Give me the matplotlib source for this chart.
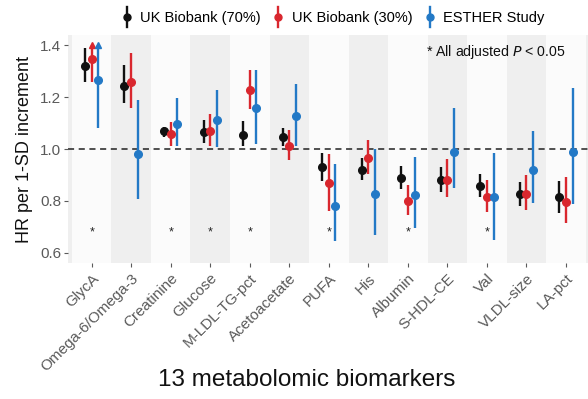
import numpy as np
import matplotlib.pyplot as plt
from matplotlib.lines import Line2D
from matplotlib.legend_handler import HandlerBase

plt.rcParams['font.family'] = ['Liberation Sans', 'DejaVu Sans']

biomarkers = ["GlycA", "Omega-6/Omega-3", "Creatinine", "Glucose", "M-LDL-TG-pct",
              "Acetoacetate", "PUFA", "His", "Albumin", "S-HDL-CE", "Val",
              "VLDL-size", "LA-pct"]

# UK Biobank (70%)
hr_70 = [1.321, 1.244, 1.071, 1.064, 1.054, 1.046, 0.929, 0.920, 0.888, 0.881, 0.857, 0.827, 0.814]
lo_70 = [1.257, 1.176, 1.048, 1.024, 1.013, 1.013, 0.878, 0.879, 0.845, 0.833, 0.816, 0.782, 0.755]
hi_70 = [1.388, 1.324, 1.086, 1.112, 1.109, 1.082, 0.986, 0.965, 0.934, 0.932, 0.902, 0.872, 0.877]

# UK Biobank (30%)
hr_30 = [1.347, 1.257, 1.057, 1.069, 1.226, 1.013, 0.868, 0.964, 0.800, 0.881, 0.816, 0.827, 0.797]
lo_30 = [1.257, 1.159, 1.013, 1.013, 1.154, 0.958, 0.762, 0.902, 0.744, 0.814, 0.759, 0.765, 0.716]
hi_30 = [1.440, 1.371, 1.105, 1.134, 1.304, 1.075, 0.981, 1.035, 0.861, 0.960, 0.881, 0.900, 0.891]

# ESTHER Study
hr_es = [1.266, 0.981, 1.096, 1.112, 1.157, 1.128, 0.782, 0.825, 0.821, 0.990, 0.816, 0.919, 0.990]
lo_es = [1.082, 0.806, 1.013, 1.006, 1.019, 1.013, 0.647, 0.669, 0.694, 0.850, 0.649, 0.793, 0.788]
hi_es = [1.480, 1.189, 1.198, 1.227, 1.304, 1.250, 0.942, 0.999, 0.970, 1.157, 0.986, 1.071, 1.236]

significant = ["GlycA", "Creatinine", "Glucose", "M-LDL-TG-pct", "PUFA", "Albumin", "Val"]

series = [
    ("UK Biobank (70%)", hr_70, lo_70, hi_70, "#111111", -0.17),
    ("UK Biobank (30%)", hr_30, lo_30, hi_30, "#d9272e", 0.0),
    ("ESTHER Study", hr_es, lo_es, hi_es, "#2379c6", 0.17),
]

ycap = 1.4

fig = plt.figure(figsize=(5.88, 3.99), dpi=100)
ax = fig.add_axes([0.1156, 0.341, 0.8844, 0.571])

x = np.arange(1, len(biomarkers) + 1)
for i in range(0, len(biomarkers) + 2):
    ax.axvspan(i - 0.5, i + 0.5, color="#efefef" if i % 2 == 0 else "#fbfbfb",
               lw=0, zorder=0)

ax.axhline(1.0, color="#222222", lw=1.1, ls=(0, (4, 3)), zorder=1)

handles = []
for name, hr, lo, hi, col, dx in series:
    hr, lo, hi = np.array(hr), np.array(lo), np.array(hi)
    xs = x + dx
    top = np.minimum(hi, ycap)
    ax.vlines(xs, lo, top, color=col, lw=1.7, zorder=2)
    ax.plot(xs, hr, "o", color=col, ms=5.5, zorder=3)
    clipped = hi > ycap
    ax.plot(xs[clipped], top[clipped], "^", color=col, ms=4, zorder=3)
    handles.append(Line2D([], [], color=col, marker="o", ms=5.5, ls="none"))

for lab in significant:
    ax.text(biomarkers.index(lab) + 1, 0.68, "*", ha="center", va="center",
            fontsize=9, color="#222222")

ax.text(13.0, 1.373, "* All adjusted $\\it{P}$ < 0.05", ha="right", va="center",
        fontsize=10.2, color="#111111")

ax.set_xlim(0.4, 13.56)
ax.set_ylim(0.561, 1.439)
ax.set_yticks([0.6, 0.8, 1.0, 1.2, 1.4])
ax.set_yticklabels(["0.6", "0.8", "1.0", "1.2", "1.4"])
ax.set_xticks(x)
ax.set_xticklabels(biomarkers, rotation=45, ha="right", rotation_mode="anchor")
ax.tick_params(axis="both", colors="#5a5a5a", length=3, width=0.8)
ax.tick_params(axis="y", labelsize=11, pad=2)
ax.tick_params(axis="x", labelsize=11, pad=3)
for s in ax.spines.values():
    s.set_visible(False)

ax.set_ylabel("HR per 1-SD increment", fontsize=13, color="#111111", labelpad=5)
fig.text(0.522, 0.048, "13 metabolomic biomarkers", ha="center", va="center",
         fontsize=17.5, color="#111111")


class HandlerBarDot(HandlerBase):
    def create_artists(self, legend, orig, xd, yd, w, h, fontsize, trans):
        col = orig.get_color()
        cx = xd + w / 2
        line = Line2D([cx, cx], [yd - 0.45 * h, yd + 1.45 * h], color=col, lw=1.7,
                      transform=trans)
        dot = Line2D([cx], [yd + h / 2], marker="o", ms=5, color=col, ls="none",
                     transform=trans)
        return [line, dot]


fig.legend(handles, [s[0] for s in series], loc="center", bbox_to_anchor=(0.566, 0.955),
           ncol=3, frameon=False, fontsize=10.5, handlelength=0.8, handletextpad=0.5,
           columnspacing=0.8, handler_map={Line2D: HandlerBarDot()})

fig.savefig("out.png", dpi=100)
